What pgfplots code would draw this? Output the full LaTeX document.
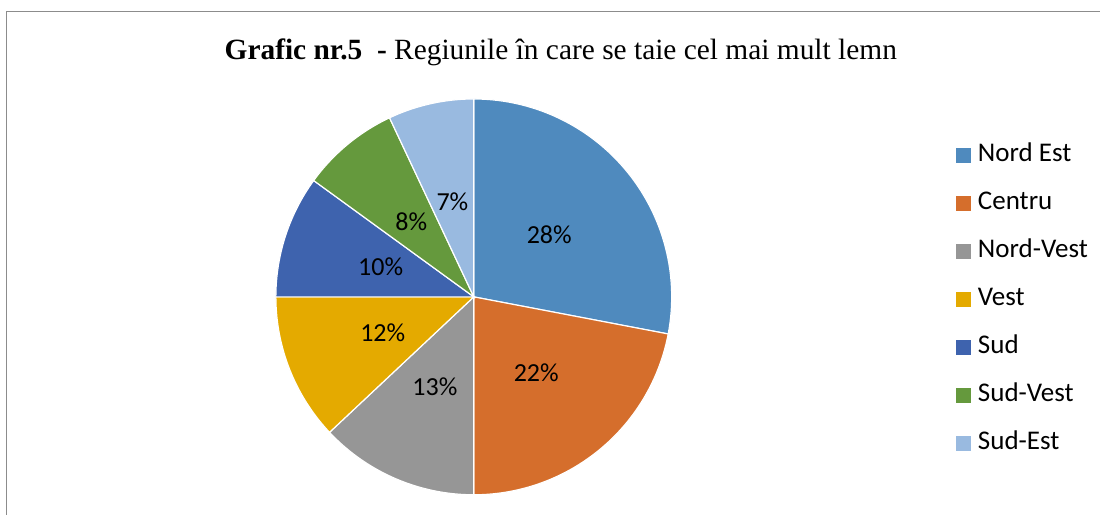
\documentclass[border=0pt]{standalone}
\usepackage{pgfplots}
\pgfplotsset{compat=1.18}
\usepackage{fontspec}
\setmainfont{Carlito}
\newfontfamily\timesfont{Liberation Serif}

\definecolor{cNE}{RGB}{79,138,190}
\definecolor{cCE}{RGB}{213,110,44}
\definecolor{cNV}{RGB}{150,150,150}
\definecolor{cVE}{RGB}{228,170,0}
\definecolor{cSU}{RGB}{62,99,174}
\definecolor{cSV}{RGB}{101,153,61}
\definecolor{cSE}{RGB}{153,186,224}

\tikzset{pielabel/.style={font=\fontsize{13}{15}\selectfont, inner sep=0pt}}

% pie centre (474,218) and radius 198, in pixel units of the frame
% #1 = share before this slice, #2 = share, #3 = colour, #4 = region
\newcommand{\slice}[4]{%
  \pgfmathsetmacro{\aa}{90-3.6*#1}%
  \pgfmathsetmacro{\bb}{90-3.6*(#1+#2)}%
  \pgfmathsetmacro{\mm}{(\aa+\bb)/2}%
  \addplot[fill=#3, draw=white, line width=0.6pt, domain=\bb:\aa, samples=60, variable=\t]
    ({474+198*cos(\t)},{218+198*sin(\t)}) -- (axis cs:474,218) -- cycle;
  \addlegendentry{#4}
  \pgfmathsetmacro{\lx}{474+98*cos(\mm)}%
  \pgfmathsetmacro{\ly}{218+98*sin(\mm)}%
  \edef\tmp{\noexpand\node[pielabel] at (axis cs:\lx,\ly) {#2\noexpand\%};}\tmp
}

\begin{document}
\begin{tikzpicture}
\begin{axis}[
  x=0.5pt, y=0.5pt,
  xmin=0, xmax=1100, ymin=0, ymax=515,
  hide axis, clip=false,
  legend cell align=left,
  legend image code/.code={\fill[#1, draw=none] (0pt,-3.75pt) rectangle (7.5pt,3.75pt);},
  legend style={at={(axis cs:956,372)}, anchor=north west, draw=none, fill=none,
    inner sep=0pt, row sep=12pt,
    font=\fontsize{13.5}{15}\selectfont,
    nodes={inner sep=0pt, text height=9pt, text depth=3pt},
    /tikz/every odd column/.append style={column sep=3.5pt}},
]
\path (axis cs:0,0) rectangle (axis cs:1100,515);
\draw[black!45, line width=0.5pt] (axis cs:7,0) -- (axis cs:7,503) -- (axis cs:1100,503);

\slice{0}{28}{cNE}{Nord Est}
\slice{28}{22}{cCE}{Centru}
\slice{50}{13}{cNV}{Nord-Vest}
\slice{63}{12}{cVE}{Vest}
\slice{75}{10}{cSU}{Sud}
\slice{85}{8}{cSV}{Sud-Vest}
\slice{93}{7}{cSE}{Sud-Est}

\node[anchor=base, inner sep=0pt, font=\timesfont\fontsize{14.7}{17}\selectfont]
  at (axis cs:561,455) {\textbf{Grafic nr.5~~-} Regiunile în care se taie cel mai mult lemn};
\end{axis}
\end{tikzpicture}
\end{document}
